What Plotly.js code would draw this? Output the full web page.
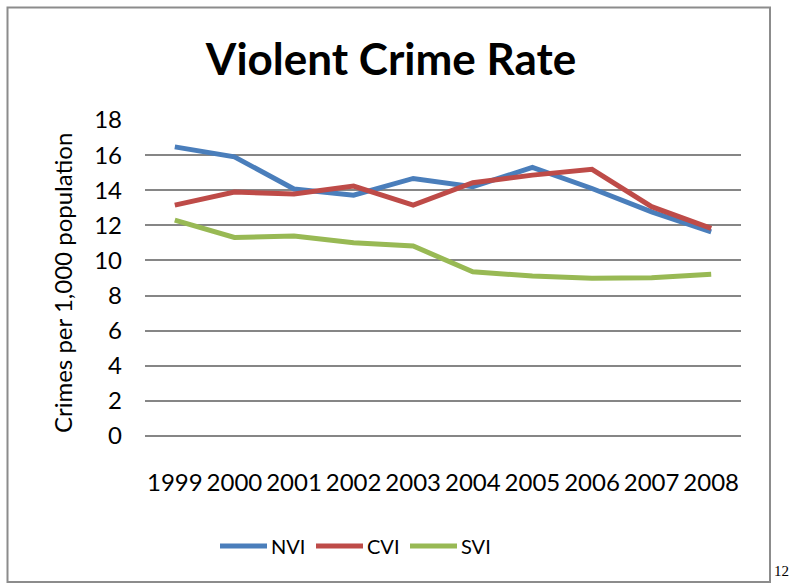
<!DOCTYPE html>
<html>
<head>
<meta charset="utf-8">
<script src="https://cdn.plot.ly/plotly-3.0.1.min.js"></script>
<style>
  html, body { margin: 0; padding: 0; background: #fff; }
  #chart { width: 801px; height: 587px; }
</style>
</head>
<body>
<div id="chart"></div>
<script>
// Violent crime rate per 1,000 population, 1999-2008
const years = ['1999', '2000', '2001', '2002', '2003', '2004', '2005', '2006', '2007', '2008'];
const seriesNames = ['NVI', 'CVI', 'SVI'];
const nviValues = [16.47, 15.9, 14.07, 13.72, 14.67, 14.2, 15.3, 14.1, 12.77, 11.63];
const cviValues = [13.15, 13.9, 13.78, 14.24, 13.15, 14.43, 14.86, 15.19, 13.06, 11.83];
const sviValues = [12.3, 11.31, 11.39, 11.01, 10.82, 9.36, 9.11, 8.98, 9.02, 9.22];
const yTicks = [0, 2, 4, 6, 8, 10, 12, 14, 16, 18];
const pageNumber = '12';

const colors = ['#4A7EBB', '#BE4B48', '#98B954'];
const values = [nviValues, cviValues, sviValues];

const W = 801, H = 587;
const M = { l: 145, r: 60, t: 120, b: 151 };
const plotW = W - M.l - M.r, plotH = H - M.t - M.b;
const px = x => (x - M.l) / plotW;
const py = y => (H - M.b - y) / plotH;

const traces = values.map((v, i) => ({
  type: 'scatter',
  mode: 'lines',
  name: seriesNames[i],
  x: years,
  y: v,
  line: { color: colors[i], width: 5 },
  hoverinfo: 'skip',
  showlegend: false
}));

const font = 'Lato, "Open Sans", sans-serif';

// Legend key: a long line sample followed by the series name
const legendStarts = [220, 316, 410];
const legendLen = 47;
const legendY = 546;
const legendShapes = seriesNames.map((n, i) => ({
  type: 'line',
  xref: 'paper', yref: 'paper',
  x0: px(legendStarts[i]), x1: px(legendStarts[i] + legendLen),
  y0: py(legendY), y1: py(legendY),
  line: { color: colors[i], width: 5 }
}));
const legendLabels = seriesNames.map((n, i) => ({
  text: n,
  xref: 'paper', yref: 'paper',
  x: px(legendStarts[i] + legendLen + 2), y: py(legendY),
  xanchor: 'left', yanchor: 'middle',
  showarrow: false,
  font: { family: font, size: 20, color: '#000' }
}));

const layout = {
  width: W,
  height: H,
  margin: M,
  paper_bgcolor: '#fff',
  plot_bgcolor: '#fff',
  showlegend: false,
  title: {
    text: '<b>Violent Crime Rate</b>',
    font: { family: font, size: 44, color: '#000' },
    xref: 'paper', x: px(391), xanchor: 'center',
    yref: 'container', y: 1 - 60 / H, yanchor: 'middle'
  },
  xaxis: {
    type: 'category',
    range: [-0.5, years.length - 0.5],
    showgrid: false,
    zeroline: false,
    showline: false,
    ticks: '',
    ticklabelstandoff: 30,
    tickfont: { family: font, size: 24, color: '#000' },
    fixedrange: true
  },
  yaxis: {
    range: [0, 18],
    tickvals: yTicks,
    ticktext: yTicks.map(String),
    showgrid: true,
    gridcolor: '#868686',
    gridwidth: 2,
    zeroline: true,
    zerolinecolor: '#868686',
    zerolinewidth: 2,
    showline: false,
    ticks: '',
    ticklabelstandoff: 22,
    tickfont: { family: font, size: 24, color: '#000' },
    fixedrange: true
  },
  annotations: [
    {
      text: 'Crimes per 1,000 population',
      xref: 'paper', yref: 'paper',
      x: px(62), y: py(283),
      xanchor: 'center', yanchor: 'middle',
      textangle: -90,
      showarrow: false,
      font: { family: font, size: 24, color: '#000' }
    },
    {
      text: pageNumber,
      xref: 'paper', yref: 'paper',
      x: px(772), y: py(571),
      xanchor: 'left', yanchor: 'middle',
      showarrow: false,
      font: { family: '"Liberation Serif", serif', size: 15, color: '#000' }
    }
  ].concat(legendLabels),
  shapes: [
    {
      type: 'rect',
      xref: 'paper', yref: 'paper',
      x0: px(7.5), x1: px(770),
      y0: py(582), y1: py(7.5),
      line: { color: '#8c8c8c', width: 2 },
      fillcolor: 'rgba(0,0,0,0)',
      layer: 'below'
    }
  ].concat(legendShapes)
};

Plotly.newPlot('chart', traces, layout, { displayModeBar: false, staticPlot: true });
</script>
</body>
</html>
